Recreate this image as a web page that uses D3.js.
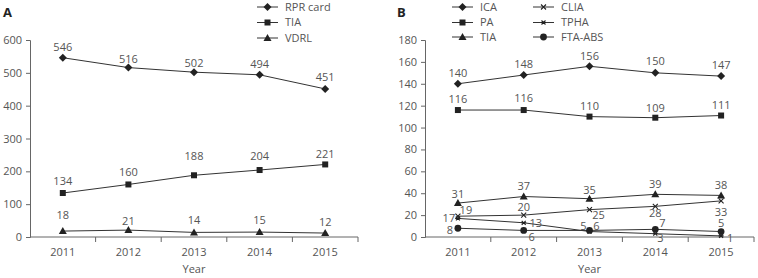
<!DOCTYPE html>
<html>
<head>
<meta charset="utf-8">
<script src="https://cdn.jsdelivr.net/npm/d3@7"></script>
<style>
  body { margin: 0; background: #fff; }
  svg text { font-family: "Open Sans", sans-serif; fill: #555; }
</style>
</head>
<body>
<div id="chart"></div>
<script>
// categories
const years = ["2011", "2012", "2013", "2014", "2015"];

// panel A series
const rprCard = [546, 516, 502, 494, 451];
const tiaA = [134, 160, 188, 204, 221];
const vdrl = [18, 21, 14, 15, 12];
const ticksA = [0, 100, 200, 300, 400, 500, 600];

// panel B series
const ica = [140, 148, 156, 150, 147];
const pa = [116, 116, 110, 109, 111];
const tiaB = [31, 37, 35, 39, 38];
const clia = [19, 20, 25, 28, 33];
const tpha = [17, 13, 5, 3, 1];
const ftaAbs = [8, 6, 6, 7, 5];
const ticksB = [0, 20, 40, 60, 80, 100, 120, 140, 160, 180];

// where each value label sits relative to its marker [dx, dy]
const offRpr = [[0,-11],[0,-8],[0,-9],[0,-11],[0,-12]];
const offTiaA = [[0,-12],[0,-12],[0,-19],[0,-14],[0,-10]];
const offVdrl = [[0,-16],[0,-9],[0,-12],[0,-12],[0,-11]];
const offIca = [[0,-11],[0,-11],[0,-10],[0,-12],[0,-11]];
const offPa = [[0,-11],[0,-12],[0,-10],[0,-10],[0,-10]];
const offTiaB = [[0,-9],[0,-10],[0,-9],[0,-10],[0,-10]];
const offClia = [[8,-6],[0,-8],[9,6],[0,7],[0,11]];
const offTpha = [[-9,0],[12,0],[-6,-5],[5,4],[9,2]];
const offFta = [[-8,2],[8,7],[7,-4],[7,-6],[0,-8]];

const W = 758, H = 278;
const svg = d3.select("#chart").append("svg")
    .attr("width", W).attr("height", H);

// little marker drawers
function marker(g, type, cx, cy) {
    const col = "#222";
    if (type == "diamond") {
        g.append("path").attr("d", `M${cx},${cy-4}L${cx+4},${cy}L${cx},${cy+4}L${cx-4},${cy}Z`).attr("fill", col);
    } else if (type == "square") {
        g.append("rect").attr("x", cx-3).attr("y", cy-3).attr("width", 6).attr("height", 6).attr("fill", col);
    } else if (type == "triangle") {
        g.append("path").attr("d", `M${cx},${cy-4}L${cx+4},${cy+3}L${cx-4},${cy+3}Z`).attr("fill", col);
    } else if (type == "cross") {
        g.append("path").attr("d", `M${cx-2.5},${cy-2.5}L${cx+2.5},${cy+2.5}M${cx-2.5},${cy+2.5}L${cx+2.5},${cy-2.5}`)
            .attr("stroke", col).attr("stroke-width", 1.1);
    } else if (type == "asterisk") {
        g.append("path").attr("d", `M${cx-2},${cy-2}L${cx+2},${cy+2}M${cx-2},${cy+2}L${cx+2},${cy-2}M${cx-2.5},${cy}L${cx+2.5},${cy}`)
            .attr("stroke", col).attr("stroke-width", 1.1);
    } else if (type == "circle") {
        g.append("circle").attr("cx", cx).attr("cy", cy).attr("r", 3.4).attr("fill", col);
    }
}

function drawPanel(cfg) {
    const g = svg.append("g");
    const x = d3.scaleBand().domain(years).range([cfg.x0, cfg.x1]).paddingInner(0).paddingOuter(0);
    const y = d3.scaleLinear().domain([0, cfg.max]).range([237, 40]);
    const cx = d => x(d) + x.bandwidth() / 2;

    // y axis
    const ya = g.append("g").attr("transform", `translate(${cfg.x0},0)`)
        .call(d3.axisLeft(y).tickValues(cfg.ticks).tickSize(4).tickPadding(4));
    ya.select(".domain").attr("stroke", "#666");
    ya.selectAll(".tick line").attr("stroke", "#666");
    ya.selectAll("text").attr("font-size", 11).style("font-family", "Open Sans").attr("fill", "#555");

    // x axis: ticks at band boundaries
    g.append("line").attr("x1", cfg.x0).attr("x2", cfg.x1).attr("y1", 237).attr("y2", 237).attr("stroke", "#666");
    const bounds = years.map(d => x(d)).concat([cfg.x1]);
    g.selectAll("xtick").data(bounds.slice(1)).enter().append("line")
        .attr("x1", d => d).attr("x2", d => d).attr("y1", 237).attr("y2", 242).attr("stroke", "#666");
    g.selectAll("xlab").data(years).enter().append("text")
        .attr("x", d => cx(d)).attr("y", 252).attr("dy", "0.35em")
        .attr("text-anchor", "middle").attr("font-size", 11).text(d => d);
    g.append("text").attr("x", (cfg.x0 + cfg.x1) / 2).attr("y", 269).attr("dy", "0.35em")
        .attr("text-anchor", "middle").attr("font-size", 11).text("Year");

    // panel letter
    g.append("text").attr("x", cfg.letterX).attr("y", 12).attr("dy", "0.35em")
        .attr("font-size", 13).attr("font-weight", "bold").style("fill", "#222").text(cfg.letter);

    const line = d3.line().x((d, i) => cx(years[i])).y(d => y(d));
    cfg.series.forEach(s => {
        g.append("path").datum(s.values).attr("d", line)
            .attr("fill", "none").attr("stroke", "#333").attr("stroke-width", 1);
        s.values.forEach((v, i) => marker(g, s.marker, cx(years[i]), y(v)));
        g.selectAll("lbl").data(s.values).enter().append("text")
            .attr("x", (d, i) => cx(years[i]) + s.off[i][0])
            .attr("y", (d, i) => y(d) + s.off[i][1])
            .attr("dy", "0.35em").attr("text-anchor", "middle").attr("font-size", 11)
            .text(d => d);
    });

    // legend
    cfg.series.forEach((s, i) => {
        const lx = cfg.legX[s.col], ly = cfg.legY[s.row];
        g.append("line").attr("x1", lx).attr("x2", lx + 21).attr("y1", ly).attr("y2", ly)
            .attr("stroke", "#333").attr("stroke-width", 1);
        marker(g, s.marker, lx + 10.5, ly);
        g.append("text").attr("x", lx + 28).attr("y", ly).attr("dy", "0.35em")
            .attr("font-size", 11).text(s.name);
    });
}

drawPanel({
    letter: "A", letterX: 3, x0: 30, x1: 358, max: 600, ticks: ticksA,
    legX: [257], legY: [7, 22.5, 38],
    series: [
        {name: "RPR card", values: rprCard, marker: "diamond", off: offRpr, col: 0, row: 0},
        {name: "TIA", values: tiaA, marker: "square", off: offTiaA, col: 0, row: 1},
        {name: "VDRL", values: vdrl, marker: "triangle", off: offVdrl, col: 0, row: 2}
    ]
});

drawPanel({
    letter: "B", letterX: 397, x0: 425, x1: 754, max: 180, ticks: ticksB,
    legX: [452, 533], legY: [7, 22.5, 37],
    series: [
        {name: "ICA", values: ica, marker: "diamond", off: offIca, col: 0, row: 0},
        {name: "PA", values: pa, marker: "square", off: offPa, col: 0, row: 1},
        {name: "TIA", values: tiaB, marker: "triangle", off: offTiaB, col: 0, row: 2},
        {name: "CLIA", values: clia, marker: "cross", off: offClia, col: 1, row: 0},
        {name: "TPHA", values: tpha, marker: "asterisk", off: offTpha, col: 1, row: 1},
        {name: "FTA-ABS", values: ftaAbs, marker: "circle", off: offFta, col: 1, row: 2}
    ]
});
</script>
</body>
</html>
